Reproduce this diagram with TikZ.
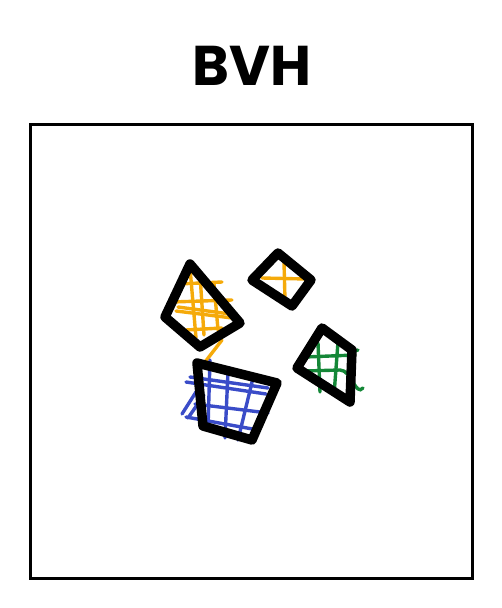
\documentclass[tikz,border=0pt]{standalone}
\usepackage{fontspec}
\setmainfont{Poppins}
\usepackage{xcolor}
\definecolor{boxorange}{RGB}{245,170,10}
\definecolor{boxblue}{RGB}{58,76,200}
\definecolor{boxgreen}{RGB}{20,135,55}
\tikzset{
  outline/.style={line width=9.5pt, line cap=round, line join=round},
  gridline/.style={line width=3.4pt, line cap=round},
  frame/.style={line width=3pt}
}
\begin{document}
\begin{tikzpicture}[x=1pt, y=-1pt]
  \useasboundingbox (0,0) rectangle (502,608);
  % title
  \node (title) at (252,66) {\fontsize{56}{62}\selectfont\bfseries BVH};
  % scene frame
  \draw[frame] (30,124) rectangle (472,578);
  % orange grid, left box
  \begin{scope}[gridline, boxorange]
    \draw (178,284) -- (222,282);
    \draw (172,302) -- (232,300);
    \draw (176,311) -- (232,318);
    \draw (178,307) -- (230,314);
    \draw (186,330) -- (222,328);
    \draw (190,268) -- (196,338);
    \draw (200,275) -- (204,335);
    \draw (214,284) -- (218,330);
    \draw (222,340) -- (205,362);
  \end{scope}
  % orange cross, small box
  \begin{scope}[gridline, boxorange]
    \draw (262,278) -- (306,279);
    \draw (284,262) -- (285,300);
    \draw (300,292) -- (306,290);
  \end{scope}
  % green grid
  \begin{scope}[gridline, boxgreen]
    \draw (305,357) -- (355,355);
    \draw (305,371) -- (340,370) to[out=0,in=-130] (363,388);
    \draw (318,343) -- (320,392);
    \draw (338,342) -- (334,395);
    \draw (352,352) -- (358,350);
  \end{scope}
  % blue grid
  \begin{scope}[gridline, boxblue]
    \draw (190,377) -- (268,388);
    \draw (186,382) -- (266,394);
    \draw (195,404) -- (268,413);
    \draw (186,417) -- (258,430);
    \draw (228,372) -- (225,438);
    \draw (253,378) -- (238,440);
    \draw (210,360) -- (208,428);
    \draw (196,392) -- (182,414);
    \draw (204,395) -- (188,418);
    \draw (230,368) -- (232,372);
  \end{scope}
  % black outlines
  \draw[outline] (190,264) -- (165,317) -- (200,347) -- (240,323) -- cycle;
  \draw[outline] (278,253) -- (252,280) -- (292,306) -- (311,280) -- cycle;
  \draw[outline] (322,328) -- (297,368) -- (350,402) -- (352,350) -- cycle;
  \draw[outline] (197,363) -- (203,426) -- (252,440) -- (277,383) -- cycle;
\end{tikzpicture}
\end{document}
